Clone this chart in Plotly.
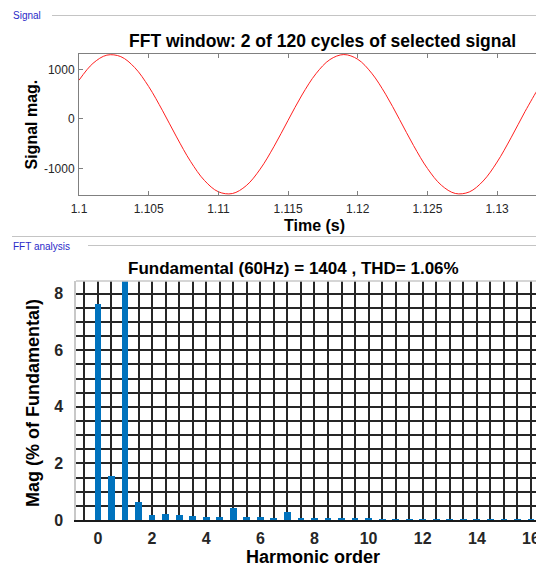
import plotly.graph_objects as go

# The page body adds an 8px margin, so the figure is made 8px larger and
# all page-pixel positions below are shifted by that offset.
OFF = 8
W, H = 544 + OFF, 568 + OFF
FONT = "Liberation Sans, Arial, Helvetica, sans-serif"

# ---- data: signal window (1 ms steps) ----
time_s = [1.100, 1.101, 1.102, 1.103, 1.104, 1.105, 1.106, 1.107, 1.108, 1.109,
          1.110, 1.111, 1.112, 1.113, 1.114, 1.115, 1.116, 1.117, 1.118, 1.119,
          1.120, 1.121, 1.122, 1.123, 1.124, 1.125, 1.126, 1.127, 1.128, 1.129,
          1.130, 1.131, 1.132, 1.133, 1.13333]
signal_mag = [780, 1119, 1285, 1255, 1034, 653, 165, -361, -852, -1237,
              -1465, -1501, -1342, -1009, -549, -28, 483, 910, 1195, 1297,
              1202, 922, 499, -10, -532, -995, -1333, -1499, -1469, -1248,
              -867, -379, 147, 638, 795]
time_ticks = [1.1, 1.105, 1.11, 1.115, 1.12, 1.125, 1.13]
time_tick_labels = ["1.1", "1.105", "1.11", "1.115", "1.12", "1.125", "1.13"]
signal_ticks = [-1000, 0, 1000]
signal_tick_labels = ["-1000", "0", "1000"]

# ---- data: FFT spectrum (% of fundamental) ----
harmonic_order = [0, 0.5, 1, 1.5, 2, 2.5, 3, 3.5, 4, 4.5, 5, 5.5, 6, 6.5, 7, 7.5, 8, 8.5,
                  9, 9.5, 10, 10.5, 11, 11.5, 12, 12.5, 13, 13.5, 14, 14.5, 15, 15.5, 16, 16.5]
mag_pct = [7.65, 1.54, 100, 0.62, 0.19, 0.22, 0.18, 0.15, 0.12, 0.12, 0.41, 0.11, 0.09, 0.08,
           0.28, 0.06, 0.06, 0.05, 0.05, 0.04, 0.04, 0.03, 0.01, 0.03, 0.03, 0.03, 0.03, 0.02,
           0.02, 0.02, 0.02, 0.02, 0.02, 0.02]
harm_ticks = [0, 2, 4, 6, 8, 10, 12, 14, 16]
harm_tick_labels = ["0", "2", "4", "6", "8", "10", "12", "14", "16"]
mag_ticks = [0, 2, 4, 6, 8]
mag_tick_labels = ["0", "2", "4", "6", "8"]


def px(x):
    return (x - OFF) / W


def py(y):
    return 1 - (y - OFF) / H


fig = go.Figure()
fig.add_trace(go.Scatter(x=time_s, y=signal_mag, mode="lines",
                         line=dict(color="#ff2020", width=1, shape="spline", smoothing=1.0),
                         xaxis="x", yaxis="y", showlegend=False, hoverinfo="skip"))
fig.add_trace(go.Bar(x=harmonic_order, y=mag_pct, width=0.25,
                     marker=dict(color="#0072BD", line=dict(width=0)),
                     xaxis="x2", yaxis="y2", showlegend=False, hoverinfo="skip"))

axcol = "#808080"
tickfont_top = dict(family=FONT, size=12, color="#262626")
tickfont_bot = dict(family=FONT, size=16, color="#262626", weight="bold")

fig.update_layout(
    width=W, height=H, margin=dict(l=0, r=0, t=0, b=0, pad=0, autoexpand=False),
    autosize=False,
    paper_bgcolor="white", plot_bgcolor="white",
    font=dict(family=FONT),
    bargap=0,
    xaxis=dict(domain=[px(79), px(543.5)], anchor="y", range=[1.1, 1.13333], automargin=False,
               tickvals=time_ticks, ticktext=time_tick_labels, tickfont=tickfont_top,
               ticklabelstandoff=3,
               showline=True, linecolor=axcol, linewidth=1, mirror="ticks",
               ticks="inside", ticklen=4, tickcolor=axcol, showgrid=False, zeroline=False),
    yaxis=dict(domain=[py(195), py(54)], anchor="x", range=[-1530, 1308], automargin=False,
               tickvals=signal_ticks, ticktext=signal_tick_labels, tickfont=tickfont_top,
               ticklabelstandoff=1,
               showline=True, linecolor=axcol, linewidth=1, mirror="ticks",
               ticks="inside", ticklen=4, tickcolor=axcol, showgrid=False, zeroline=False),
    xaxis2=dict(domain=[px(76), px(544)], anchor="y2", range=[-0.81, 16.48], automargin=False,
                tickvals=harm_ticks, ticktext=harm_tick_labels, tickfont=tickfont_bot,
                ticklabelstandoff=3,
                showline=True, linecolor="#1a1a1a", linewidth=2, mirror=False,
                ticks="", showgrid=True, gridcolor="#262626", gridwidth=2, zeroline=False,
                minor=dict(tick0=0, dtick=0.5, showgrid=True, gridcolor="#262626",
                           gridwidth=2, ticks="")),
    yaxis2=dict(domain=[py(520), py(281)], anchor="x2", range=[0, 8.45], automargin=False,
                tickvals=mag_ticks, ticktext=mag_tick_labels, tickfont=tickfont_bot,
                ticklabelstandoff=8,
                showline=True, linecolor="#c8c8c8", linewidth=1.5, mirror=False,
                ticks="", showgrid=True, gridcolor="#262626", gridwidth=2, zeroline=False,
                minor=dict(tick0=0, dtick=0.5, showgrid=True, gridcolor="#262626",
                           gridwidth=2, ticks="")),
)

shapes = [
    dict(type="line", xref="paper", yref="paper", x0=px(52), x1=px(544), y0=py(15.5), y1=py(15.5),
         line=dict(color="#c4c4c4", width=1)),
    dict(type="line", xref="paper", yref="paper", x0=px(12), x1=px(544), y0=py(236.5), y1=py(236.5),
         line=dict(color="#c4c4c4", width=1)),
    dict(type="line", xref="paper", yref="paper", x0=px(88), x1=px(544), y0=py(245.5), y1=py(245.5),
         line=dict(color="#c4c4c4", width=1)),
    dict(type="line", xref="paper", yref="paper", x0=px(76), x1=px(544), y0=py(281), y1=py(281),
         line=dict(color="#c8c8c8", width=1.5)),
]
fig.update_layout(shapes=shapes)

ann = []


def note(text, x, y, size, bold=True, color="#000000", angle=0, anchor="center"):
    ann.append(dict(text=text, x=px(x), y=py(y), xref="paper", yref="paper",
                    xanchor=anchor, yanchor="middle", showarrow=False, textangle=angle,
                    font=dict(family=FONT, size=size, color=color,
                              weight="bold" if bold else "normal")))


note("Signal", 11, 16, 10, bold=False, color="#2a2ac8", anchor="left")
note("FFT analysis", 11, 246.5, 10, bold=False, color="#2a2ac8", anchor="left")
note("FFT window: 2 of 120 cycles of selected signal", 322.5, 41, 17.5)
note("Signal mag.", 30.5, 125, 16, angle=-90)
note("Time (s)", 314, 225, 16)
note("Fundamental (60Hz) = 1404 , THD= 1.06%", 293.5, 268, 17)
note("Mag (% of Fundamental)", 33, 403, 18, angle=-90)
note("Harmonic order", 313, 557, 18)
fig.update_layout(annotations=ann)

fig.write_html("out.html")
